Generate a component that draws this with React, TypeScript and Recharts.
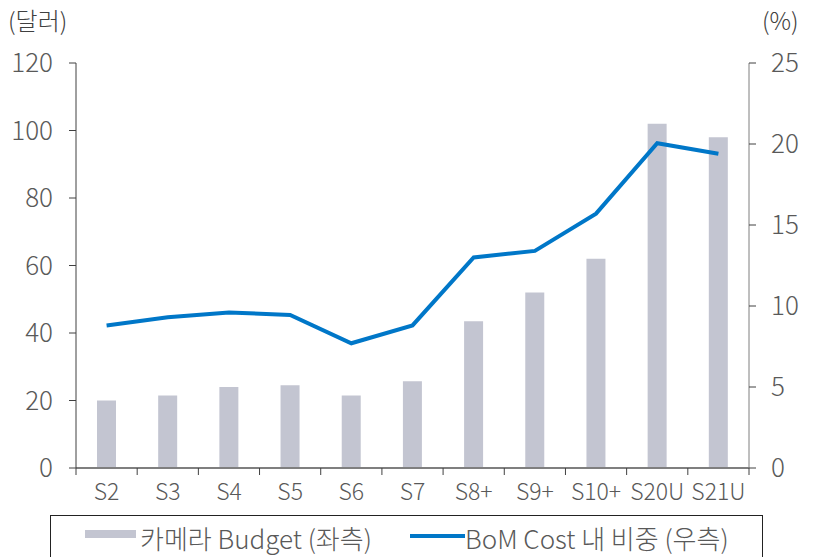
import { ComposedChart, Bar, Line, XAxis, YAxis, Legend } from 'recharts'

const categories = ['S2', 'S3', 'S4', 'S5', 'S6', 'S7', 'S8+', 'S9+', 'S10+', 'S20U', 'S21U']
const cameraBudget = [20, 21.5, 24, 24.5, 21.5, 25.7, 43.5, 52, 62, 102, 98]
const bomShare = [8.8, 9.3, 9.6, 9.45, 7.7, 8.8, 13.0, 13.4, 15.7, 20.05, 19.4]
const leftTicks = [0, 20, 40, 60, 80, 100, 120]
const rightTicks = [0, 5, 10, 15, 20, 25]

const rows = categories.map((name, i) => ({
  name,
  budget: cameraBudget[i],
  share: bomShare[i],
}))

const FONT = "'Noto Sans CJK KR', 'Noto Sans', sans-serif"
const TEXT = '#595959'
const BAR = '#c3c5d1'
const LINE = '#0077c8'
const W = 819
const H = 557
const PLOT_LEFT = 76
const PLOT_RIGHT = 749
const PLOT_BOTTOM = 468
const BAND = (PLOT_RIGHT - PLOT_LEFT) / categories.length
const LEGEND_H = 50

function XTick(props: any) {
  const { x, payload, index } = props
  return (
    <g>
      <line x1={x - BAND / 2} x2={x - BAND / 2} y1={PLOT_BOTTOM} y2={PLOT_BOTTOM + 7} stroke="#404040" />
      {index === categories.length - 1 && (
        <line x1={x + BAND / 2} x2={x + BAND / 2} y1={PLOT_BOTTOM} y2={PLOT_BOTTOM + 7} stroke="#404040" />
      )}
      <text x={x} y={PLOT_BOTTOM + 32} textAnchor="middle" fill={TEXT} fontSize={23} fontFamily={FONT} fontWeight={300}>
        {payload.value}
      </text>
    </g>
  )
}

function LegendBox() {
  const label = {
    position: 'absolute' as const,
    top: 22,
    transform: 'translateY(-50%)',
    lineHeight: 1,
    whiteSpace: 'nowrap' as const,
  }
  return (
    <div
      style={{
        position: 'relative',
        border: '1px solid #222',
        height: LEGEND_H,
        boxSizing: 'border-box',
        fontFamily: FONT,
        fontWeight: 300,
        fontSize: 26,
        color: TEXT,
      }}
    >
      <span style={{ position: 'absolute', left: 34, top: 14, width: 51, height: 8, background: BAR }} />
      <span style={{ ...label, left: 89 }}>카메라 Budget (좌측)</span>
      <span style={{ position: 'absolute', left: 359, top: 18, width: 55, height: 4, background: LINE }} />
      <span style={{ ...label, left: 414 }}>BoM Cost 내 비중 (우측)</span>
    </div>
  )
}

export default function App() {
  const tickStyle = { fill: TEXT, fontSize: 26, fontFamily: FONT, fontWeight: 300 }
  const titleStyle = {
    position: 'absolute' as const,
    top: 2,
    fontFamily: FONT,
    fontWeight: 300,
    fontSize: 24,
    color: '#404040',
  }
  return (
    <div style={{ position: 'fixed', left: 0, top: 0, width: W, height: H, background: '#fff', overflow: 'hidden' }}>
      <div style={{ ...titleStyle, left: 8 }}>(달러)</div>
      <div style={{ ...titleStyle, left: 762 }}>(%)</div>
      <ComposedChart width={W} height={H} data={rows} margin={{ top: 63, right: 0, left: 0, bottom: 59 - LEGEND_H }}>
        <XAxis
          dataKey="name"
          height={30}
          axisLine={{ stroke: '#7f7f7f', strokeWidth: 2 }}
          tickLine={false}
          tick={<XTick />}
          interval={0}
        />
        <YAxis
          yAxisId="left"
          width={76}
          domain={[0, 120]}
          ticks={leftTicks}
          axisLine={{ stroke: '#404040' }}
          tickLine={{ stroke: '#404040' }}
          tickSize={7}
          tickMargin={16}
          tick={tickStyle}
        />
        <YAxis
          yAxisId="right"
          orientation="right"
          width={70}
          domain={[0, 25]}
          ticks={rightTicks}
          axisLine={{ stroke: '#7f7f7f' }}
          tickLine={{ stroke: '#404040' }}
          tickSize={7}
          tickMargin={15}
          tick={tickStyle}
        />
        <Bar yAxisId="left" dataKey="budget" fill={BAR} barSize={19} isAnimationActive={false} />
        <Line
          yAxisId="right"
          dataKey="share"
          type="linear"
          stroke={LINE}
          strokeWidth={4}
          dot={false}
          isAnimationActive={false}
        />
        <Legend
          content={<LegendBox />}
          wrapperStyle={{ position: 'absolute', left: 50, top: 515, width: 713, height: LEGEND_H, bottom: 'auto' }}
        />
      </ComposedChart>
    </div>
  )
}
